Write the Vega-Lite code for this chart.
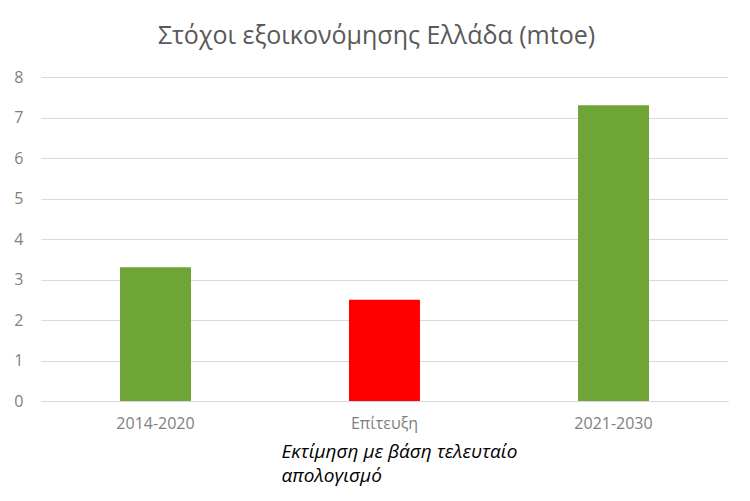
{
  "$schema": "https://vega.github.io/schema/vega-lite/v6.json",
  "width": 687,
  "height": 324,
  "autosize": "none",
  "padding": {"left": 41, "top": 77, "right": 22, "bottom": 100},
  "background": "white",
  "title": {
    "text": "Στόχοι εξοικονόμησης Ελλάδα (mtoe)",
    "font": "Open Sans",
    "fontSize": 25,
    "fontWeight": "normal",
    "color": "#595959",
    "anchor": "middle",
    "offset": 20,
    "dx": -8
  },
  "data": {
    "values": [
      {"period": "2014-2020", "value": 3.3, "color": "#6fa437"},
      {"period": "Επίτευξη", "value": 2.5, "color": "#ff0000"},
      {"period": "2021-2030", "value": 7.3, "color": "#6fa437"}
    ]
  },
  "mark": {"type": "bar"},
  "encoding": {
    "x": {
      "field": "period",
      "type": "nominal",
      "sort": null,
      "scale": {"paddingInner": 0.69, "paddingOuter": 0.345},
      "axis": {
        "title": ["Εκτίμηση με βάση τελευταίο", "απολογισμό"],
        "titleFont": "Open Sans",
        "titleFontSize": 19,
        "titleFontStyle": "italic",
        "titleFontWeight": "normal",
        "titleColor": "#000000",
        "titleAlign": "left",
        "titleAnchor": "start",
        "titleBaseline": "top",
        "titleX": 240,
        "titleY": 41,
        "titleLineHeight": 24,
        "labelAngle": 0,
        "labelFont": "Open Sans",
        "labelFontSize": 16,
        "labelColor": "#7f7f7f",
        "labelPadding": 14,
        "ticks": false,
        "domainColor": "#d9d9d9",
        "domainWidth": 1
      }
    },
    "y": {
      "field": "value",
      "type": "quantitative",
      "scale": {"domain": [0, 8]},
      "axis": {
        "title": null,
        "values": [0, 1, 2, 3, 4, 5, 6, 7, 8],
        "labelOverlap": false,
        "labelFont": "Open Sans",
        "labelFontSize": 16,
        "labelColor": "#7f7f7f",
        "labelPadding": 18,
        "ticks": false,
        "domain": false,
        "gridColor": "#d9d9d9",
        "gridWidth": 1
      }
    },
    "color": {"field": "color", "type": "nominal", "scale": null, "legend": null}
  },
  "config": {"view": {"stroke": null}}
}
